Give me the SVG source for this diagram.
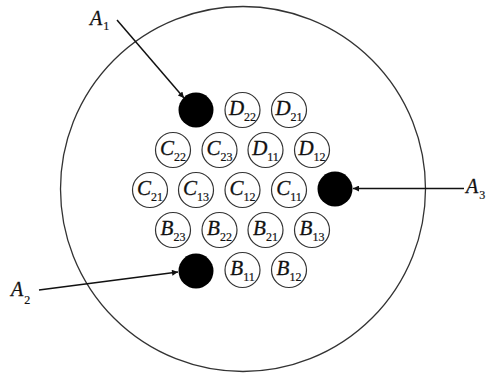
<svg xmlns="http://www.w3.org/2000/svg" width="492" height="373" viewBox="0 0 492 373">
<defs>
<style>
.outer{fill:none;stroke:#333;stroke-width:1.3}
.cell{fill:#fff;stroke:#333;stroke-width:1.2}
.dot{fill:#000}
.lbl{font-family:"Liberation Serif","Times New Roman",serif;font-size:21px;fill:#111;text-anchor:middle;stroke:#111;stroke-width:0.3}
.it{font-style:italic}
.sub{font-size:12px;font-style:normal;stroke-width:0.2}
.alab{font-family:"Liberation Serif","Times New Roman",serif;font-size:20px;fill:#111;stroke:#111;stroke-width:0.3}
.asub{font-size:12px;font-style:normal;stroke-width:0.2}
.conn{stroke:#111;stroke-width:1.5;fill:none;marker-end:url(#ah)}
</style>
<marker id="ah" viewBox="0 0 10 10" refX="10" refY="5" markerWidth="8" markerHeight="6" markerUnits="userSpaceOnUse" orient="auto">
<path d="M0,0 L10,5 L0,10 Z" fill="#111"/>
</marker>
</defs>
<rect width="492" height="373" fill="#fff"/>
<circle class="outer" cx="243" cy="189" r="182.5"/>

<g id="A1"><circle class="dot" cx="196" cy="110" r="17.5"/></g>
<g id="D22"><circle class="cell" cx="242.5" cy="110" r="17.5"/><text class="lbl" x="242.5" y="115"><tspan class="it">D</tspan><tspan class="sub" dy="6">22</tspan></text></g>
<g id="D21"><circle class="cell" cx="289" cy="110" r="17.5"/><text class="lbl" x="289" y="115"><tspan class="it">D</tspan><tspan class="sub" dy="6">21</tspan></text></g>

<g id="C22"><circle class="cell" cx="173" cy="150" r="17.5"/><text class="lbl" x="173" y="155"><tspan class="it">C</tspan><tspan class="sub" dy="6">22</tspan></text></g>
<g id="C23"><circle class="cell" cx="219.5" cy="150" r="17.5"/><text class="lbl" x="219.5" y="155"><tspan class="it">C</tspan><tspan class="sub" dy="6">23</tspan></text></g>
<g id="D11"><circle class="cell" cx="265.5" cy="150" r="17.5"/><text class="lbl" x="265.5" y="155"><tspan class="it">D</tspan><tspan class="sub" dy="6">11</tspan></text></g>
<g id="D12"><circle class="cell" cx="312" cy="150" r="17.5"/><text class="lbl" x="312" y="155"><tspan class="it">D</tspan><tspan class="sub" dy="6">12</tspan></text></g>

<g id="C21"><circle class="cell" cx="150" cy="190" r="17.5"/><text class="lbl" x="150" y="195"><tspan class="it">C</tspan><tspan class="sub" dy="6">21</tspan></text></g>
<g id="C13"><circle class="cell" cx="196" cy="190" r="17.5"/><text class="lbl" x="196" y="195"><tspan class="it">C</tspan><tspan class="sub" dy="6">13</tspan></text></g>
<g id="C12"><circle class="cell" cx="242.5" cy="190" r="17.5"/><text class="lbl" x="242.5" y="195"><tspan class="it">C</tspan><tspan class="sub" dy="6">12</tspan></text></g>
<g id="C11"><circle class="cell" cx="289" cy="190" r="17.5"/><text class="lbl" x="289" y="195"><tspan class="it">C</tspan><tspan class="sub" dy="6">11</tspan></text></g>
<g id="A3"><circle class="dot" cx="335" cy="189" r="17.5"/></g>

<g id="B23"><circle class="cell" cx="173" cy="230" r="17.5"/><text class="lbl" x="173" y="235"><tspan class="it">B</tspan><tspan class="sub" dy="6">23</tspan></text></g>
<g id="B22"><circle class="cell" cx="219.5" cy="230" r="17.5"/><text class="lbl" x="219.5" y="235"><tspan class="it">B</tspan><tspan class="sub" dy="6">22</tspan></text></g>
<g id="B21"><circle class="cell" cx="265.5" cy="230" r="17.5"/><text class="lbl" x="265.5" y="235"><tspan class="it">B</tspan><tspan class="sub" dy="6">21</tspan></text></g>
<g id="B13"><circle class="cell" cx="312" cy="230" r="17.5"/><text class="lbl" x="312" y="235"><tspan class="it">B</tspan><tspan class="sub" dy="6">13</tspan></text></g>

<g id="A2"><circle class="dot" cx="196" cy="271" r="17.5"/></g>
<g id="B11"><circle class="cell" cx="242.5" cy="270" r="17.5"/><text class="lbl" x="242.5" y="275"><tspan class="it">B</tspan><tspan class="sub" dy="6">11</tspan></text></g>
<g id="B12"><circle class="cell" cx="289" cy="270" r="17.5"/><text class="lbl" x="289" y="275"><tspan class="it">B</tspan><tspan class="sub" dy="6">12</tspan></text></g>

<g id="labels">
<text class="alab" x="90" y="25"><tspan class="it">A</tspan><tspan class="asub" dx="1" dy="5">1</tspan></text>
<text class="alab" x="11" y="296"><tspan class="it">A</tspan><tspan class="asub" dx="1" dy="8">2</tspan></text>
<text class="alab" x="466" y="193"><tspan class="it">A</tspan><tspan class="asub" dx="1" dy="6">3</tspan></text>
</g>

<g id="connectors">
<line class="conn" x1="117" y1="20" x2="184" y2="98"/>
<line class="conn" x1="39" y1="290" x2="178" y2="272"/>
<line class="conn" x1="464" y1="188.5" x2="353" y2="188.5"/>
</g>
</svg>
